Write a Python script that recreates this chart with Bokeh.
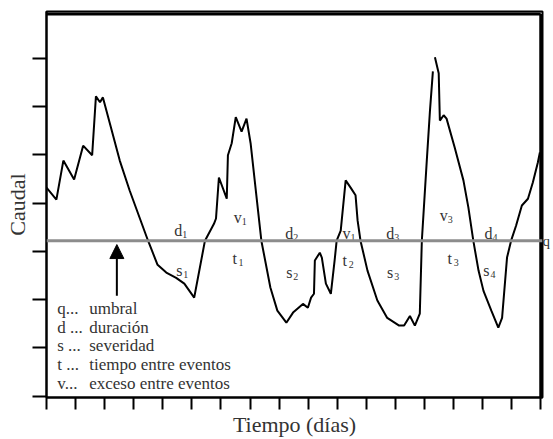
from bokeh.plotting import figure
from bokeh.models import Range1d, FixedTicker, Arrow, NormalHead, Span, ColumnDataSource, LinearAxis
from bokeh.core.properties import value
from bokeh.embed import file_html
from bokeh.resources import INLINE

# ---- data ----
dias = [0.00, 0.34, 0.58, 0.95, 1.26, 1.57, 1.70, 1.84, 1.94, 2.18, 2.52, 2.86, 3.20, 3.48,
        3.82, 4.12, 4.46, 4.74, 5.08, 5.45, 5.76, 5.83, 5.93, 6.20, 6.24, 6.37, 6.51, 6.71,
        6.88, 7.02, 7.39, 7.70, 7.94, 8.25, 8.48, 8.82, 8.99, 9.10, 9.20, 9.23, 9.40, 9.47,
        9.61, 9.78, 9.91, 9.98, 10.12, 10.29, 10.46, 10.63, 10.70, 10.80, 11.04, 11.38, 11.72,
        12.13, 12.30, 12.50, 12.67, 12.84, 12.91, 13.08, 13.19, 13.29, 13.32, 13.36, 13.49,
        13.53, 13.66, 13.76, 14.04, 14.34, 14.51, 14.68, 14.86, 15.03, 15.30, 15.54, 15.67,
        15.84, 15.98, 16.15, 16.35, 16.56, 16.73, 16.90, 16.97]
caudal = [4.32, 4.07, 4.88, 4.49, 5.19, 4.99, 6.21, 6.09, 6.19, 5.65, 4.88, 4.26, 3.70, 3.24,
          2.72, 2.56, 2.45, 2.33, 2.04, 3.22, 3.57, 3.68, 4.53, 4.09, 4.99, 5.24, 5.78, 5.48,
          5.75, 5.24, 3.22, 2.25, 1.77, 1.52, 1.73, 1.91, 1.83, 2.04, 2.12, 2.81, 2.97, 2.87,
          2.33, 2.12, 2.81, 3.22, 3.43, 4.47, 4.32, 4.16, 3.64, 3.22, 2.60, 1.98, 1.62,
          1.46, 1.46, 1.66, 1.46, 1.71, 3.22, 4.88, 5.92, 6.73, float("nan"), 7.02, 6.69,
          5.71, 5.82, 5.75, 5.15, 4.47, 3.91, 3.22, 2.60, 2.18, 1.77, 1.42, 1.62,
          2.87, 3.22, 3.53, 3.95, 4.09, 4.43, 4.84, 5.05]
umbral = 3.22

x_ticks = list(range(0, 18))
y_ticks = list(range(0, 8))
x_max = 17
y_max = 7.92
y_min = -0.03

# event annotations (letter, subscript, anchor x, baseline y)
ev_letra = ["d", "s", "v", "t", "d", "s", "v", "t", "d", "s", "v", "t", "d", "s"]
ev_sub = ["1", "1", "1", "1", "2", "2", "1", "2", "3", "3", "3", "3", "4", "4"]
ev_x = [4.53, 4.57, 6.58, 6.47, 8.35, 8.35, 10.32, 10.26, 11.82, 11.82, 13.66, 13.87, 15.20, 15.13]
ev_y = [3.43, 2.60, 3.70, 2.85, 3.37, 2.56, 3.37, 2.81, 3.37, 2.56, 3.74, 2.85, 3.37, 2.60]

ley_clave = ["q...", "d ...", "s ...", "t ...", "v..."]
ley_texto = ["umbral", "duración", "severidad", "tiempo entre eventos", "exceso entre eventos"]
ley_y = [1.81, 1.42, 1.04, 0.65, 0.27]

SERIF = "Liberation Serif"
TXT = "#333333"

p = figure(width=553, height=439, output_backend="svg", toolbar_location=None,
           x_range=Range1d(0, x_max + 0.06), y_range=Range1d(y_min, y_max + 0.05),
           min_border_left=46, min_border_right=8, min_border_top=11, min_border_bottom=42,
           x_axis_label="Tiempo (días)", y_axis_label="Caudal")
p.xgrid.visible = False
p.ygrid.visible = False
p.outline_line_color = "black"
p.outline_line_width = 2
p.outline_line_alpha = 1.0
p.background_fill_color = "white"
p.border_fill_color = "white"

for ax, ticks, tout in ((p.xaxis[0], x_ticks, 12), (p.yaxis[0], y_ticks, 14)):
    ax.ticker = FixedTicker(ticks=ticks)
    ax.minor_tick_line_color = None
    ax.major_tick_in = 0
    ax.major_tick_out = tout
    ax.major_tick_line_width = 2
    ax.major_tick_line_color = "black"
    ax.axis_line_width = 2
    ax.axis_line_color = "black"
    ax.major_label_text_font_size = "0px"
    ax.major_label_standoff = 0
    ax.axis_label_text_font = SERIF
    ax.axis_label_text_font_size = "22px"
    ax.axis_label_text_font_style = "normal"
    ax.axis_label_text_color = TXT

p.xaxis[0].axis_label_standoff = 2
p.yaxis[0].axis_label_standoff = 3

# threshold mark "q" just outside the right border
right_ax = LinearAxis(ticker=FixedTicker(ticks=[umbral]), axis_line_color=None,
                      major_tick_out=0, major_tick_in=0,
                      major_tick_line_color=None, minor_tick_line_color=None,
                      major_label_overrides={umbral: "q"}, major_label_standoff=0,
                      major_label_text_font=SERIF, major_label_text_font_size="15px",
                      major_label_text_color=TXT)
p.add_layout(right_ax, "right")

# frame border edges (top and right), drawn just inside the frame
p.segment(x0=[0, x_max], y0=[y_max, y_max], x1=[x_max, x_max], y1=[y_max, y_min],
          line_color="black", line_width=3)

# threshold line
p.add_layout(Span(location=umbral, dimension="width", line_color="#8c8c8c", line_width=3))

# hydrograph
p.line(dias, caudal, line_color="black", line_width=2)

# event labels
src = ColumnDataSource(dict(x=ev_x, y=ev_y, l=ev_letra, s=ev_sub))
p.text(x="x", y="y", text="l", source=src, text_font=value(SERIF), text_font_size="16px",
       text_color=TXT, text_align="center", text_baseline="alphabetic")
p.text(x="x", y="y", text="s", source=src, text_font=value(SERIF), text_font_size="10px",
       text_color=TXT, text_align="left", text_baseline="alphabetic", x_offset=4, y_offset=4)

# legend block
lsrc = ColumnDataSource(dict(y=ley_y, k=ley_clave, t=ley_texto, xk=[0.37] * 5, xt=[1.47] * 5))
p.text(x="xk", y="y", text="k", source=lsrc, text_font=value(SERIF), text_font_size="17px",
       text_color=TXT, text_align="left", text_baseline="alphabetic")
p.text(x="xt", y="y", text="t", source=lsrc, text_font=value(SERIF), text_font_size="17px",
       text_color=TXT, text_align="left", text_baseline="alphabetic")

# arrow pointing to the threshold
p.add_layout(Arrow(end=NormalHead(size=14, fill_color="black", line_color="black"),
                   x_start=2.42, y_start=2.08, x_end=2.42, y_end=3.14,
                   line_color="black", line_width=2))

open("out.html", "w").write(file_html(p, INLINE))
